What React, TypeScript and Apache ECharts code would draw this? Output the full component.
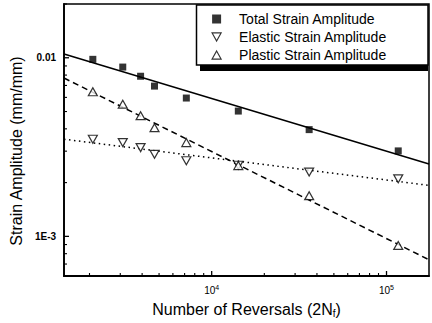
import React, { useEffect, useRef } from 'react';
import * as echarts from 'echarts';

// ---- data ----
const reversals = [2090, 3100, 3920, 4710, 7160, 14200, 36100, 116700];
const totalStrain = [0.0098, 0.00887, 0.00788, 0.00694, 0.00595, 0.00503, 0.00396, 0.00301];
const elasticStrain = [0.0035, 0.00335, 0.00314, 0.00288, 0.00265, 0.0025, 0.00229, 0.0021];
const plasticStrain = [0.00645, 0.0055, 0.00474, 0.00406, 0.00335, 0.00249, 0.00169, 0.00089];

// fitted lines (end points)
const fitReversals = [1430, 175000];
const totalFit = [0.0105, 0.00254];
const elasticFit = [0.0035, 0.00193];
const plasticFit = [0.0077, 0.00074];

// axes
const X_MIN = 1430;
const X_MAX = 175000;
const Y_MIN = 0.0006;
const Y_MAX = 0.02;
const xMajorTicks = [1e4, 1e5];
const xTickExponents = ['4', '5'];
const xMinorTicks = [2000, 3000, 4000, 5000, 6000, 7000, 8000, 9000, 20000, 30000, 40000, 50000, 60000, 70000, 80000, 90000];
const yMajorTicks = [0.001, 0.01];
const yTickLabels = ['1E-3', '0.01'];
const yMinorTicks = [0.0007, 0.0008, 0.0009, 0.002, 0.003, 0.004, 0.005, 0.006, 0.007, 0.008, 0.009, 0.02];

const seriesNames = ['Total Strain Amplitude', 'Elastic Strain Amplitude', 'Plastic Strain Amplitude'];

const FONT = "'Liberation Sans', Arial, sans-serif";
const W = 432;
const H = 323;
const GRID = { left: 64, right: 3, top: 4, bottom: 46 };

const lg = (v: number) => Math.log10(v);
const pts = (xs: number[], ys: number[]) => xs.map((x, i) => [lg(x), lg(ys[i])]);
const idxOf = (arr: number[], v: number) => arr.findIndex((t) => Math.abs(lg(t) - v) < 1e-6);

// tick marks drawn through the axes' own scales (api.coord), as thin rects
const tickSeries = (values: number[], len: number, dim: 'x' | 'y') => ({
  type: 'custom',
  silent: true,
  clip: false,
  z: 5,
  data: values.map((v) => (dim === 'x' ? [lg(v), lg(Y_MIN)] : [lg(X_MIN), lg(v)])),
  renderItem: (_params: any, api: any) => {
    const p = api.coord([api.value(0), api.value(1)]);
    const t = len > 4 ? 1.3 : 1.1;
    const shape =
      dim === 'x'
        ? { x: p[0] - t / 2, y: p[1] - len, width: t, height: len }
        : { x: p[0], y: p[1] - t / 2, width: len, height: t };
    return { type: 'rect', shape, style: { fill: '#000' } };
  },
});

export default function App() {
  const ref = useRef<HTMLDivElement>(null);
  useEffect(() => {
    if (!ref.current) return;
    const chart = echarts.init(ref.current, undefined, { renderer: 'svg' });
    const hollow = { color: '#fff', borderColor: '#000', borderWidth: 1.2 };
    chart.setOption({
      animation: false,
      backgroundColor: '#fff',
      textStyle: { fontFamily: FONT },
      grid: { ...GRID, show: true, borderColor: '#000', borderWidth: 1.5, backgroundColor: 'transparent' },
      xAxis: {
        type: 'value',
        min: lg(X_MIN),
        max: lg(X_MAX),
        position: 'bottom',
        axisLine: { show: true, onZero: false, lineStyle: { color: '#000', width: 1.8 } },
        axisTick: { show: false },
        axisLabel: {
          customValues: xMajorTicks.map(lg),
          margin: 8,
          color: '#000',
          formatter: (v: number) => `{n|10}{s|${xTickExponents[idxOf(xMajorTicks, v)]}}`,
          rich: {
            n: { fontSize: 10, fontFamily: FONT, color: '#000' },
            s: { fontSize: 7, fontFamily: FONT, color: '#000', padding: [0, 0, 6, 0] },
          },
        },
        splitLine: { show: false },
        name: '{t|Number of Reversals (2N}{f|f}{t|)}',
        nameLocation: 'middle',
        nameGap: 24,
        nameTextStyle: {
          rich: {
            t: { fontSize: 16, fontFamily: FONT, color: '#000' },
            f: { fontSize: 10, fontFamily: FONT, color: '#000', padding: [8, 0, 0, 0] },
          },
        },
      },
      yAxis: {
        type: 'value',
        min: lg(Y_MIN),
        max: lg(Y_MAX),
        position: 'left',
        axisLine: { show: true, onZero: false, lineStyle: { color: '#000', width: 1.8 } },
        axisTick: { show: false },
        axisLabel: {
          customValues: yMajorTicks.map(lg),
          margin: 8,
          color: '#000',
          fontSize: 10,
          fontWeight: 'bold',
          fontFamily: FONT,
          formatter: (v: number) => yTickLabels[idxOf(yMajorTicks, v)],
        },
        splitLine: { show: false },
        name: 'Strain Amplitude (mm/mm)',
        nameLocation: 'middle',
        nameGap: 37,
        nameTextStyle: { fontSize: 16, fontFamily: FONT, color: '#000', padding: [0, 22, 0, 0] },
      },
      legend: {
        data: [
          { name: seriesNames[0], icon: 'rect' },
          { name: seriesNames[1], icon: 'path://M0,0L10,0L5,9Z' },
          { name: seriesNames[2], icon: 'path://M5,0L10,9L0,9Z' },
        ],
        orient: 'vertical',
        left: 211.5,
        top: 12,
        padding: 0,
        itemWidth: 9,
        itemHeight: 9,
        itemGap: 4,
        selectedMode: false,
        z: 20,
        itemStyle: { borderWidth: 1.2 },
        textStyle: { fontSize: 14, fontFamily: FONT, color: '#000', lineHeight: 14, padding: [0, 0, 0, 13] },
      },
      graphic: [
        { type: 'rect', z: 10, shape: { x: 200, y: 11, width: 228, height: 60 }, style: { fill: '#000' } },
        { type: 'rect', z: 11, shape: { x: 196.5, y: 5, width: 231.5, height: 60 }, style: { fill: '#fff', stroke: '#000', lineWidth: 1.5 } },
      ],
      series: [
        tickSeries(xMajorTicks, 5, 'x'),
        tickSeries(xMinorTicks, 3, 'x'),
        tickSeries(yMajorTicks, 5, 'y'),
        tickSeries(yMinorTicks, 3, 'y'),
        {
          type: 'line', name: 'Total fit', data: pts(fitReversals, totalFit), symbol: 'none', silent: true, z: 2,
          lineStyle: { color: '#000', width: 1.5, type: 'solid' },
        },
        {
          type: 'line', name: 'Elastic fit', data: pts(fitReversals, elasticFit), symbol: 'none', silent: true, z: 2,
          lineStyle: { color: '#000', width: 1.5, type: [1.5, 3.5] },
        },
        {
          type: 'line', name: 'Plastic fit', data: pts(fitReversals, plasticFit), symbol: 'none', silent: true, z: 2,
          lineStyle: { color: '#000', width: 1.5, type: [6, 4] },
        },
        {
          type: 'scatter', name: seriesNames[0], data: pts(reversals, totalStrain), symbol: 'rect', symbolSize: 7, z: 3,
          itemStyle: { color: '#000' },
        },
        {
          type: 'scatter', name: seriesNames[1], data: pts(reversals, elasticStrain), symbol: 'triangle', symbolRotate: 180, symbolSize: [9, 8], z: 3,
          itemStyle: hollow,
        },
        {
          type: 'scatter', name: seriesNames[2], data: pts(reversals, plasticStrain), symbol: 'triangle', symbolSize: [9, 8], z: 3,
          itemStyle: hollow,
        },
      ],
    });
    return () => chart.dispose();
  }, []);
  return <div ref={ref} style={{ position: 'fixed', left: 0, top: 0, width: W, height: H }} />;
}
